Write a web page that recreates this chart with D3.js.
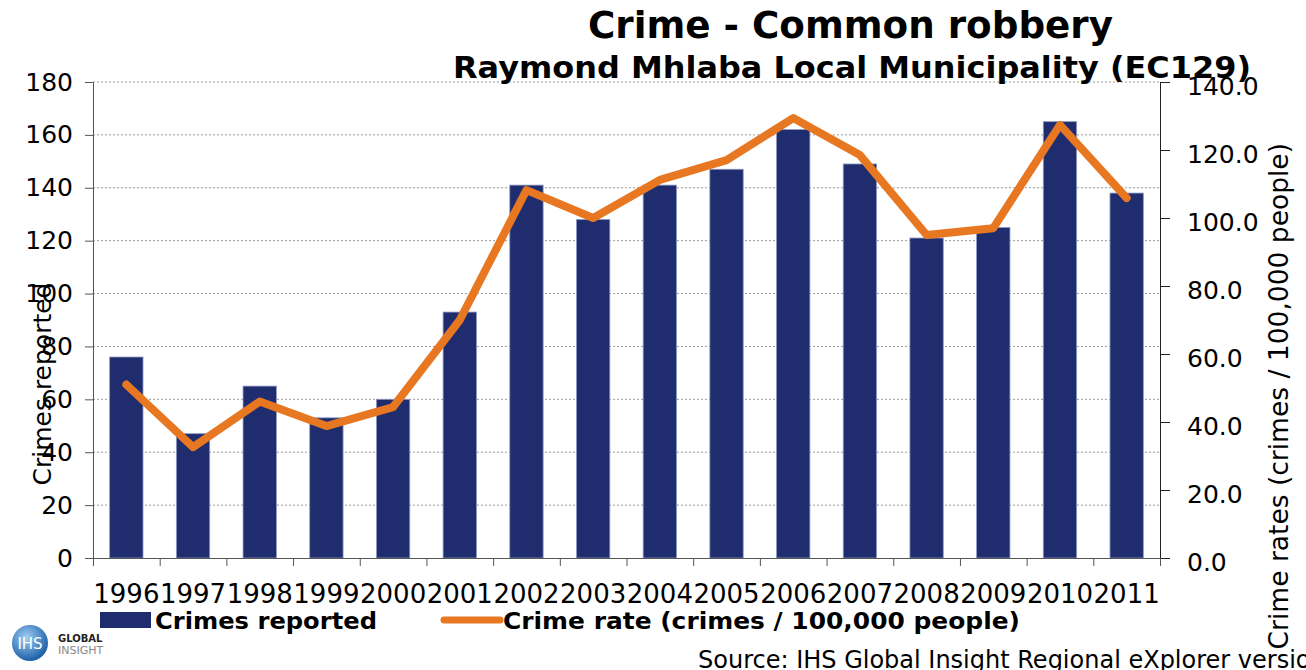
<!DOCTYPE html>
<html>
  <head>
    <style>
      body { margin: 0; background: #fff; }
      text { font-family: "DejaVu Sans", Verdana, sans-serif; }
    </style>
  </head>
  <body>
    <svg class="surface" width="1306" height="670"></svg>

    <script src="https://cdn.jsdelivr.net/npm/d3@7"></script>
    <script>
      const years = ['1996','1997','1998','1999','2000','2001','2002','2003','2004','2005','2006','2007','2008','2009','2010','2011']
      const crimesReported = [76, 47, 65, 53, 60, 93, 141, 128, 141, 147, 162, 149, 121, 125, 165, 138]
      const crimeRate = [51, 32.6, 46, 38.8, 44.4, 70, 108.2, 100, 111.2, 117, 129.4, 118.5, 95, 97, 127.4, 105.9]
      const leftTicks = [0, 20, 40, 60, 80, 100, 120, 140, 160, 180]
      const rightTicks = [0, 20, 40, 60, 80, 100, 120, 140]

      const surface = d3.select('.surface')
      const plotLeft = 93, plotRight = 1160, plotTop = 82, plotBottom = 558

      const x = d3.scaleBand().domain(years).range([plotLeft, plotRight]).paddingInner(0.5).paddingOuter(0.25)
      const y = d3.scaleLinear().domain([0, 180]).range([plotBottom, plotTop])
      const y2 = d3.scaleLinear().domain([0, 140]).range([plotBottom, plotTop])
      const edges = d3.scaleLinear().domain([0, years.length]).range([plotLeft, plotRight])

      // gridlines
      surface.append('g')
        .selectAll('line').data(leftTicks.filter(d => d > 0))
        .join('line')
          .attr('x1', plotLeft).attr('x2', plotRight)
          .attr('y1', d => y(d)).attr('y2', d => y(d))
          .attr('stroke', '#9a9a9a')
          .attr('stroke-dasharray', '2,2')

      // bars
      surface.append('g')
        .selectAll('rect').data(crimesReported)
        .join('rect')
          .attr('x', (d, i) => x(years[i]))
          .attr('width', x.bandwidth())
          .attr('y', d => y(d))
          .attr('height', d => plotBottom - y(d))
          .attr('fill', '#1f2d6e')
          .attr('stroke', '#8c98c4')
          .attr('stroke-width', 0.8)

      // axes
      const leftAxis = surface.append('g')
        .attr('transform', `translate(${plotLeft},0)`)
        .call(d3.axisLeft(y).tickValues(leftTicks).tickSize(8).tickPadding(12))
      leftAxis.selectAll('text').attr('font-size', 25).attr('fill', '#000').attr('font-family', 'DejaVu Sans')
      leftAxis.selectAll('line, path').attr('stroke', '#555')

      const rightAxis = surface.append('g')
        .attr('transform', `translate(${plotRight},0)`)
        .call(d3.axisRight(y2).tickValues(rightTicks).tickFormat(d3.format('.1f')).tickSize(10).tickPadding(17))
      rightAxis.selectAll('text').attr('font-size', 25).attr('fill', '#000').attr('font-family', 'DejaVu Sans').attr('dy', '0.5em')
      rightAxis.selectAll('line, path').attr('stroke', '#222')

      const tickAxis = surface.append('g')
        .attr('transform', `translate(0,${plotBottom})`)
        .call(d3.axisBottom(edges).tickValues(d3.range(years.length + 1)).tickFormat('').tickSize(8))
      tickAxis.selectAll('line, path').attr('stroke', '#555')

      const labelAxis = surface.append('g')
        .attr('transform', `translate(0,${plotBottom})`)
        .call(d3.axisBottom(x).tickSize(0).tickPadding(27))
      labelAxis.select('.domain').remove()
      labelAxis.selectAll('text').attr('font-size', 26).attr('fill', '#000').attr('font-family', 'DejaVu Sans')

      // rate line
      const line = d3.line()
        .x((d, i) => x(years[i]) + x.bandwidth() / 2)
        .y(d => y2(d))
      surface.append('path')
        .datum(crimeRate)
        .attr('d', line)
        .attr('fill', 'none')
        .attr('stroke', '#e87722')
        .attr('stroke-width', 8)
        .attr('stroke-linejoin', 'round')
        .attr('stroke-linecap', 'round')

      // axis titles
      surface.append('text')
        .attr('transform', 'translate(51,384) rotate(-90)')
        .attr('text-anchor', 'middle')
        .attr('font-size', 25)
        .text('Crimes reported')
      surface.append('text')
        .attr('transform', 'translate(1288,143) rotate(-90)')
        .attr('text-anchor', 'end')
        .attr('font-size', 26.5)
        .text('Crime rates (crimes / 100,000 people)')

      // titles
      surface.append('text')
        .attr('x', 588).attr('y', 38)
        .attr('font-size', 38).attr('font-weight', 'bold')
        .attr('textLength', 525).attr('lengthAdjust', 'spacingAndGlyphs')
        .text('Crime - Common robbery')
      surface.append('text')
        .attr('x', 453).attr('y', 78)
        .attr('font-size', 31).attr('font-weight', 'bold')
        .attr('textLength', 798).attr('lengthAdjust', 'spacingAndGlyphs')
        .text('Raymond Mhlaba Local Municipality (EC129)')

      // legend
      surface.append('rect')
        .attr('x', 100).attr('y', 612).attr('width', 51).attr('height', 16)
        .attr('fill', '#1f2d6e')
      surface.append('text')
        .attr('x', 155).attr('y', 629)
        .attr('font-size', 23).attr('font-weight', 'bold')
        .attr('textLength', 222).attr('lengthAdjust', 'spacingAndGlyphs')
        .text('Crimes reported')
      surface.append('line')
        .attr('x1', 444).attr('x2', 500).attr('y1', 620).attr('y2', 620)
        .attr('stroke', '#e87722').attr('stroke-width', 7).attr('stroke-linecap', 'round')
      surface.append('text')
        .attr('x', 503).attr('y', 629)
        .attr('font-size', 23).attr('font-weight', 'bold')
        .attr('textLength', 517).attr('lengthAdjust', 'spacingAndGlyphs')
        .text('Crime rate (crimes / 100,000 people)')

      // logo
      const grad = surface.append('defs').append('radialGradient')
        .attr('id', 'logo').attr('cx', '40%').attr('cy', '35%').attr('r', '65%')
      grad.append('stop').attr('offset', '0%').attr('stop-color', '#9fd0f5')
      grad.append('stop').attr('offset', '100%').attr('stop-color', '#1d5fa8')
      surface.append('circle').attr('cx', 30).attr('cy', 643).attr('r', 18).attr('fill', 'url(#logo)')
      surface.append('text').attr('x', 30).attr('y', 649).attr('text-anchor', 'middle')
        .attr('font-size', 15).attr('fill', '#fff').attr('font-family', 'Liberation Serif').text('IHS')
      surface.append('text').attr('x', 58).attr('y', 642)
        .attr('font-size', 10).attr('font-weight', 'bold').attr('fill', '#222').text('GLOBAL')
      surface.append('text').attr('x', 58).attr('y', 654)
        .attr('font-size', 11).attr('fill', '#888').attr('font-family', 'Liberation Sans').text('INSIGHT')

      // source
      surface.append('text')
        .attr('x', 698).attr('y', 668)
        .attr('font-size', 24).attr('font-family', 'Liberation Sans, Arial')
        .text('Source: IHS Global Insight Regional eXplorer version 2.3')
    </script>
  </body>
</html>
